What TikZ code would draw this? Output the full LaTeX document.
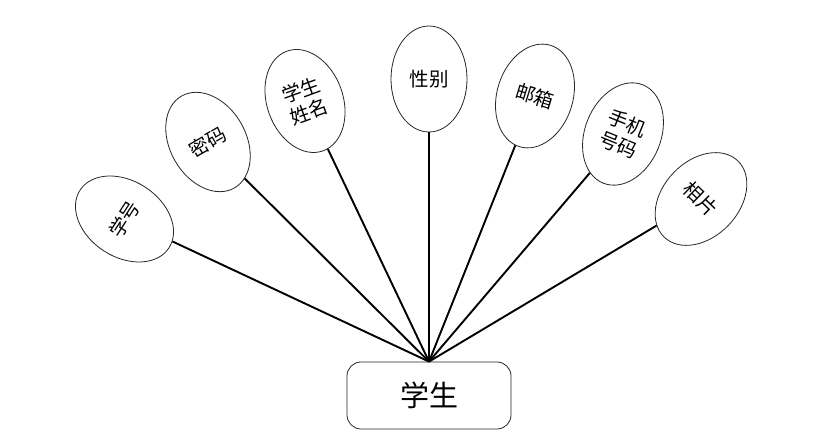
\documentclass[tikz,border=0pt]{standalone}
\usepackage{fontspec}
\setmainfont{Noto Sans CJK SC}
\usetikzlibrary{shapes.geometric}

\begin{document}
\begin{tikzpicture}[x=1pt, y=1pt,
    attr/.style={ellipse, draw=black!85, line width=0.8pt, minimum width=76pt,
      minimum height=106pt, inner sep=0pt, align=center,
      font=\fontsize{19.5}{23}\selectfont},
    link/.style={line width=1.9pt}]
  \useasboundingbox (0,0) rectangle (835,444);
  % entity
  \node[draw=black!85, line width=0.8pt, rounded corners=14pt, minimum width=164pt,
    minimum height=67pt, font=\fontsize{29}{33}\selectfont] (stu) at (429,48.5) {学生};
  \coordinate (hub) at (stu.north);
  % attributes
  \node[attr, rotate=57]  (xh) at (124.5,225) {学号};
  \node[attr, rotate=30]  (mm) at (208,302)   {密码};
  \node[attr, rotate=20]  (xm) at (305,343)   {学生\\姓名};
  \node[attr]             (xb) at (429,365)   {性别};
  \node[attr, rotate=-17] (yx) at (535,348)   {邮箱};
  \node[attr, rotate=-22] (sj) at (623,310)   {手机\\号码};
  \node[attr, rotate=-44] (xp) at (701,245)   {相片};
  \foreach \a in {xh,mm,xm,xb,yx,sj,xp}
    \draw[link] (\a) -- (hub);
\end{tikzpicture}
\end{document}
